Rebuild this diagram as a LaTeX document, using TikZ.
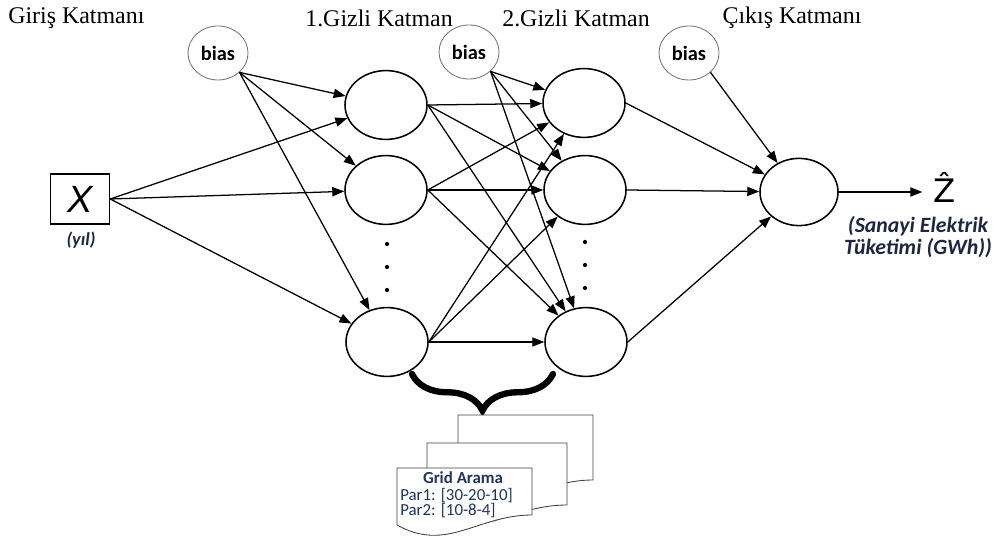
\documentclass[tikz,border=0pt]{standalone}
\usepackage{fontspec}
\setmainfont{Liberation Serif}
\newfontfamily\calibri{Carlito}
\newfontfamily\arialf{Liberation Sans}
\newfontfamily\dejavu{DejaVu Sans}
\usetikzlibrary{shapes.geometric,arrows.meta,decorations.pathreplacing}
\definecolor{navytext}{RGB}{30,38,66}
\definecolor{gridtext}{RGB}{32,52,96}

\begin{document}
\begin{tikzpicture}[x=0.025cm,y=-0.025cm,
  neuron/.style={draw,ellipse,line width=1.1pt,minimum width=2.05cm,minimum height=1.72cm,inner sep=0pt},
  biasnode/.style={draw=black!55,ellipse,line width=0.6pt,minimum width=1.5cm,minimum height=1.35cm,inner sep=0pt,
    font=\calibri\bfseries\fontsize{14.5}{16}\selectfont},
  conn/.style={-{Triangle[length=8.5pt,width=6.5pt]},line width=0.9pt},
  title/.style={font=\fontsize{17}{20}\selectfont},
  docpage/.style={draw=black!75,fill=white,line width=0.6pt}]
  \useasboundingbox (0,0) rectangle (1004,536);

  % layer titles
  \node[title,anchor=west,inner sep=0pt] (t0) at (8,18) {Giriş Katmanı};
  \node[title] (t1) at (379,18) {1.Gizli Katman};
  \node[title] (t2) at (576,18) {2.Gizli Katman};
  \node[title] (t3) at (792,18) {Çıkış Katmanı};

  % input
  \node[draw,line width=1pt,minimum width=1.475cm,minimum height=1.25cm,inner sep=0pt] (x) at (80,199)
    {\arialf\itshape\fontsize{27}{30}\selectfont X};
  \node[text=navytext,font=\calibri\bfseries\itshape\fontsize{13}{15}\selectfont] (xlbl) at (81,240) {(yıl)};

  % bias nodes
  \node[biasnode] (b1) at (218,53) {bias};
  \node[biasnode] (b2) at (469,52) {bias};
  \node[biasnode] (b3) at (689,53) {bias};

  % hidden layers
  \node[neuron] (h1a) at (386,105) {};
  \node[neuron] (h1b) at (386,190) {};
  \node[neuron] (h1c) at (387,342) {};
  \node[neuron] (h2a) at (584,103) {};
  \node[neuron] (h2b) at (585,190) {};
  \node[neuron] (h2c) at (586,342) {};
  \node[neuron,minimum width=1.95cm,minimum height=1.68cm] (out) at (799,192) {};

  \fill (387,244) circle (1.5pt) (387,267) circle (1.5pt) (387,290) circle (1.5pt);
  \fill (585,242) circle (1.5pt) (585,265) circle (1.5pt) (585,288) circle (1.5pt);

  % output
  \node[anchor=base,inner xsep=8pt,font=\dejavu\fontsize{23}{25}\selectfont] (zhat) at (945,203) {Ẑ};
  \node[align=center,text=navytext,font=\calibri\bfseries\itshape\fontsize{15.5}{15.5}\selectfont] (zlbl) at (918,237)
    {(Sanayi Elektrik\\Tüketimi (GWh))};

  % input -> 1. hidden
  \draw[conn] (b1.south east) -- (h1a);
  \draw[conn] (b1.south east) -- (h1b);
  \draw[conn] (b1.south east) -- (h1c);
  \draw[conn] (x.east) -- (h1a);
  \draw[conn] (x.east) -- (h1b);
  \draw[conn] (x.east) -- (h1c);

  % 1. hidden -> 2. hidden
  \draw[conn] (h1a.east) -- (h2a);
  \draw[conn] (h1a.east) -- (h2b);
  \draw[conn] (h1a.east) -- (h2c);
  \draw[conn] (h1b.east) -- (h2a);
  \draw[conn] (h1b.east) -- (h2b);
  \draw[conn] (h1b.east) -- (h2c);
  \draw[conn] (h1c.east) -- (h2a);
  \draw[conn] (h1c.east) -- (h2b);
  \draw[conn] (h1c.east) -- (h2c);
  \draw[conn] (b2.south east) -- (h2a);
  \draw[conn] (b2.south east) -- (h2b);
  \draw[conn] (b2.south east) -- (h2c);

  % 2. hidden -> output
  \draw[conn] (h2a.east) -- (out);
  \draw[conn] (h2b.east) -- (out);
  \draw[conn] (h2c.east) -- (out);
  \draw[conn] (b3.south east) -- (out);
  \draw[conn] (out.east) -- (out.east -| zhat.west);

  % grid search
  \draw[line width=4.5pt,line cap=round,decorate,decoration={brace,amplitude=26pt}] (553,374) -- (412,374);
  \begin{scope}[shift={(458,415)}]
    \draw[docpage] (0,0) -- (135,0) -- (135,65) .. controls (80,65) and (50,103) .. (0,75) -- cycle;
  \end{scope}
  \begin{scope}[shift={(427,443)}]
    \draw[docpage] (0,0) -- (140,0) -- (140,62) .. controls (82,62) and (52,100) .. (0,72) -- cycle;
  \end{scope}
  \begin{scope}[shift={(397,468)}]
    \draw[docpage] (0,0) -- (135,0) -- (135,47) .. controls (80,47) and (50,85) .. (0,57) -- cycle;
  \end{scope}
  \node[text=gridtext,font=\calibri\bfseries\fontsize{12}{14}\selectfont] (gtitle) at (463,478) {Grid Arama};
  \node[anchor=west,inner sep=0pt,text=gridtext,font=\calibri\fontsize{12}{14}\selectfont] (par1) at (400,496) {Par1: [30-20-10]};
  \node[anchor=west,inner sep=0pt,text=gridtext,font=\calibri\fontsize{12}{14}\selectfont] (par2) at (400,511) {Par2: [10-8-4]};
\end{tikzpicture}
\end{document}
